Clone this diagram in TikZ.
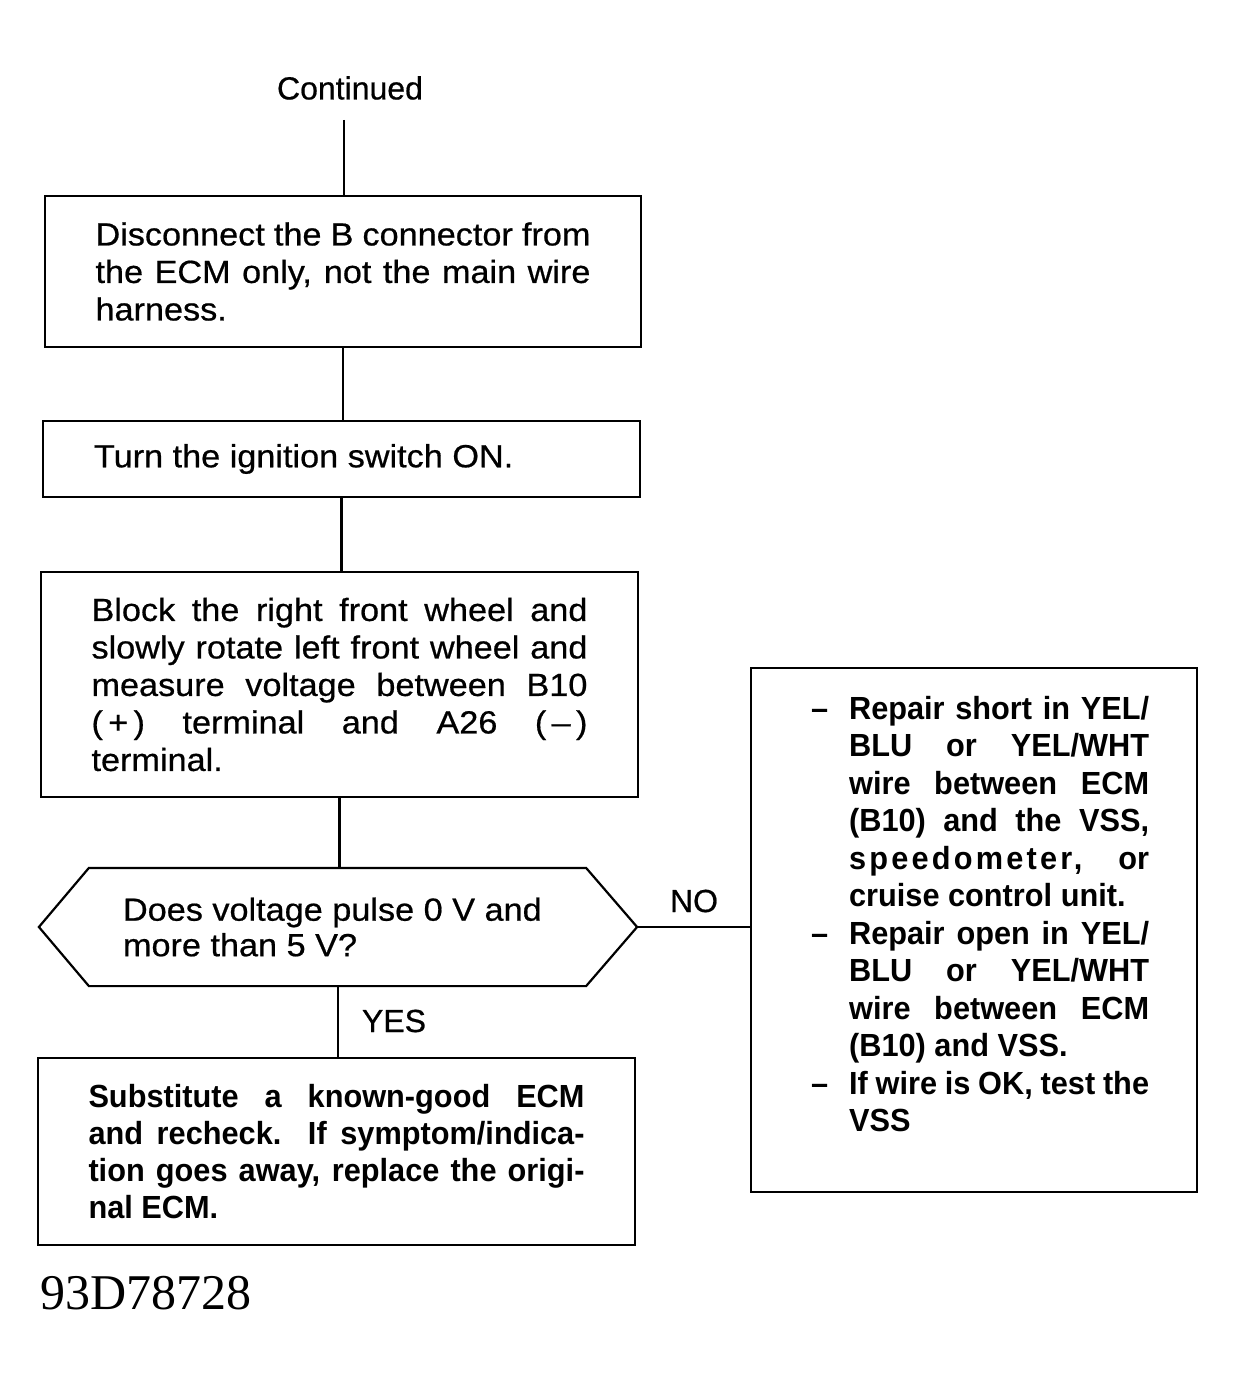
\documentclass[tikz,border=0pt]{standalone}
\usepackage{fontspec}
\setmainfont{Liberation Sans}[FakeStretch=1.07,FakeBold=0.6]
\newfontfamily\plainsans{Liberation Sans}[FakeBold=0.6]
\newfontfamily\narrowbold{Liberation Sans Bold}[FakeStretch=0.96]
\newfontfamily\idfont{Liberation Serif}
\newcommand\bodyfont{\fontsize{32}{37.5}\selectfont}
\newcommand\fixitem[1]{\par\hangindent=38pt\hangafter=1\noindent\makebox[38pt][l]{–}#1\par}
\hbadness=10000
\hfuzz=20pt
\begin{document}
\begin{tikzpicture}[x=1pt,y=-1pt,line width=2.2pt,
  box/.style={draw,line width=2.2pt,inner sep=0pt},
  lbl/.style={inner sep=0pt,font=\plainsans\fontsize{32}{37.5}\selectfont}]
\useasboundingbox (0,0) rectangle (1238,1383);

\node[lbl] (cont) at (350,88) {Continued};
\coordinate (c0) at (344,120);

\node[box,minimum width=596pt,minimum height=151pt] (b1) at (343,271.5)
  {\parbox{495pt}{\bodyfont Disconnect the B connector from\linebreak the ECM only, not the main wire\linebreak harness.}};

\node[box,minimum width=597pt,minimum height=76pt] (b2) at (341.5,459)
  {\parbox{495pt}{\bodyfont Turn the ignition switch ON.}};

\node[box,minimum width=597pt,minimum height=225pt] (b3) at (339.5,684.5)
  {\parbox{496pt}{\bodyfont Block the right front wheel and\linebreak slowly rotate left front wheel and\linebreak measure voltage between B10\linebreak (\,+\,) terminal and A26 (\,–\,)\linebreak terminal.}};

\node[minimum width=596pt,minimum height=116pt,inner sep=0pt] (dec) at (338,927)
  {\parbox{430pt}{\fontsize{32}{35.5}\selectfont Does voltage pulse 0 V and\\ more than 5 V?}};
\draw (dec.west) -- ([xshift=50pt]dec.north west) -- ([xshift=-51pt]dec.north east)
  -- (dec.east) -- ([xshift=-51pt]dec.south east) -- ([xshift=50pt]dec.south west) -- cycle;

\node[box,minimum width=597pt,minimum height=187pt] (b4) at (336.5,1151.5)
  {\parbox{496pt}{\narrowbold\fontsize{32}{37}\selectfont Substitute a known-good ECM\linebreak and recheck. If symptom/indica-\linebreak tion goes away, replace the origi-\linebreak nal ECM.}};

\node[box,minimum width=446pt,minimum height=524pt] (fix) at (974,930) {};
\node[anchor=north west,inner sep=0pt] (fixtext) at (810,695)
  {\parbox{338pt}{\narrowbold\fontsize{32}{37.5}\selectfont
   \fixitem{Repair short in YEL/\linebreak BLU or YEL/WHT\linebreak wire between ECM\linebreak (B10) and the VSS,\linebreak {\addfontfeature{LetterSpace=10}speedometer,} or\linebreak cruise control unit.}%
   \fixitem{Repair open in YEL/\linebreak BLU or YEL/WHT\linebreak wire between ECM\linebreak (B10) and VSS.}%
   \fixitem{If wire is OK, test the\linebreak VSS}}};

\node[lbl] (no) at (694,901) {NO};
\node[lbl] (yes) at (394,1021) {YES};

\node[inner sep=0pt,font=\idfont\fontsize{50}{55}\selectfont] (id) at (146,1293) {93D78728};

\draw (c0) -- (c0 |- b1.north);
\draw (b1.south) -- (b1.south |- b2.north);
\draw (b2.south) -- (b2.south |- b3.north);
\draw (b3.south) -- (b3.south |- dec.north);
\draw (dec.south) -- (dec.south |- b4.north);
\draw (dec.east) -- (dec.east -| fix.west);
\end{tikzpicture}
\end{document}
